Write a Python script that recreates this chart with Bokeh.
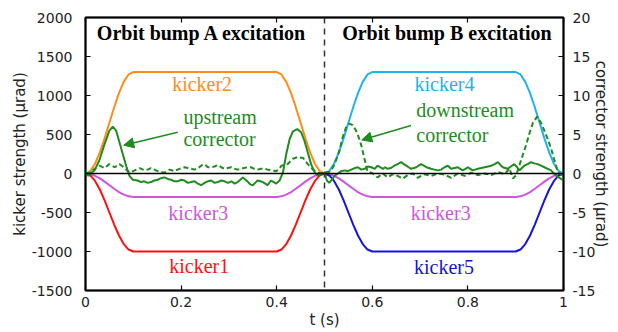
from bokeh.plotting import figure
from bokeh.models import Range1d, LinearAxis, Span, Arrow, NormalHead, FixedTicker, ColumnDataSource, Title
from bokeh.core.properties import value
from bokeh.embed import file_html
from bokeh.resources import INLINE

# ---------------- data ----------------
x_ticks = [0, 0.2, 0.4, 0.6, 0.8, 1.0]
x_tick_labels = ["0", "0.2", "0.4", "0.6", "0.8", "1"]
y_ticks = [-1500, -1000, -500, 0, 500, 1000, 1500, 2000]
y_tick_labels = ["-1500", "-1000", "-500", "0", "500", "1000", "1500", "2000"]
corr_ticks = [-15, -10, -5, 0, 5, 10, 15, 20]
corr_tick_labels = ["-15", "-10", "-5", "0", "5", "10", "15", "20"]
bump_boundary = 0.5

t_bump_A = [0.00, 0.01, 0.02, 0.03, 0.04, 0.05, 0.06, 0.07, 0.08, 0.09, 0.10,
            0.40, 0.41, 0.42, 0.43, 0.44, 0.45, 0.46, 0.47, 0.48, 0.49, 0.50]
t_bump_B = [0.50, 0.51, 0.52, 0.53, 0.54, 0.55, 0.56, 0.57, 0.58, 0.59, 0.60,
            0.90, 0.91, 0.92, 0.93, 0.94, 0.95, 0.96, 0.97, 0.98, 0.99, 1.00]

kicker1 = [0, -25, -95, -205, -345, -500, -655, -795, -905, -975, -1000,
           -1000, -975, -905, -795, -655, -500, -345, -205, -95, -25, 0]
kicker2 = [0, 30, 125, 270, 450, 650, 850, 1030, 1175, 1270, 1300,
           1300, 1270, 1175, 1030, 850, 650, 450, 270, 125, 30, 0]
kicker3_A = [0, -7, -29, -62, -104, -150, -196, -238, -271, -293, -300,
             -300, -293, -271, -238, -196, -150, -104, -62, -29, -7, 0]
kicker3_B = [0, -7, -29, -62, -104, -150, -196, -238, -271, -293, -300,
             -300, -293, -271, -238, -196, -150, -104, -62, -29, -7, 0]
kicker4 = [0, 30, 125, 270, 450, 650, 850, 1030, 1175, 1270, 1300,
           1300, 1270, 1175, 1030, 850, 650, 450, 270, 125, 30, 0]
kicker5 = [0, -25, -95, -205, -345, -500, -655, -795, -905, -975, -1000,
           -1000, -975, -905, -795, -655, -500, -345, -205, -95, -25, 0]

# upstream corrector (solid), urad
t_up = [0.000, 0.006, 0.012, 0.019, 0.029, 0.040, 0.050, 0.057, 0.064, 0.071,
        0.078, 0.085, 0.092, 0.099, 0.109, 0.116, 0.123, 0.130, 0.137, 0.144,
        0.151, 0.158, 0.165, 0.172, 0.179, 0.186, 0.193, 0.200, 0.207, 0.214,
        0.221, 0.228, 0.235, 0.242, 0.249, 0.256, 0.263, 0.270, 0.277, 0.284,
        0.291, 0.298, 0.305, 0.312, 0.318, 0.324, 0.329, 0.335, 0.340, 0.345,
        0.350, 0.355, 0.360, 0.366, 0.371, 0.376, 0.381, 0.388, 0.394, 0.399,
        0.406, 0.413, 0.420, 0.427, 0.434, 0.443, 0.451, 0.458, 0.465, 0.472,
        0.479, 0.486, 0.493, 0.500, 0.505, 0.510, 0.515, 0.521, 0.528, 0.535,
        0.542, 0.549, 0.556, 0.563, 0.570, 0.577, 0.584, 0.591, 0.598, 0.605,
        0.611, 0.617, 0.622, 0.627, 0.632, 0.639, 0.646, 0.653, 0.660, 0.666,
        0.671, 0.676, 0.681, 0.687, 0.692, 0.697, 0.702, 0.708, 0.713, 0.718,
        0.723, 0.730, 0.737, 0.744, 0.751, 0.758, 0.765, 0.772, 0.779, 0.784,
        0.789, 0.795, 0.800, 0.805, 0.810, 0.815, 0.821, 0.828, 0.835, 0.842,
        0.849, 0.856, 0.863, 0.868, 0.873, 0.878, 0.883, 0.890, 0.897, 0.903,
        0.908, 0.913, 0.918, 0.925, 0.932, 0.939, 0.946, 0.953, 0.960, 0.967,
        0.974, 0.980, 0.985, 0.990, 0.995, 1.000]
upstream = [0.0, -0.3, 0.1, 0.4, 1.7, 3.8, 5.5, 6.0, 5.5, 4.0,
            2.5, 1.0, -0.3, -0.8, -0.9, -1.1, -1.0, -1.2, -1.1, -0.9,
            -0.8, -0.6, -0.5, -0.7, -0.8, -1.0, -1.0, -0.8, -0.9, -1.2,
            -1.1, -1.0, -1.3, -1.5, -1.2, -1.0, -0.9, -1.2, -1.1, -0.9,
            -1.0, -1.2, -1.0, -1.3, -1.1, -0.8, -0.5, -0.8, -1.1, -1.4,
            -1.5, -1.2, -0.9, -1.0, -1.1, -1.3, -1.5, -0.9, -1.1, -1.3,
            -0.9, 0.1, 2.5, 4.4, 5.4, 5.7, 5.3, 4.2, 2.7, 1.2,
            0.2, -0.3, 0.0, 0.0, -0.9, -1.2, -0.8, -0.3, 0.0, 0.3,
            0.4, 0.3, 0.5, 0.7, 0.8, 0.5, 0.6, 0.9, 0.8, 0.6,
            1.0, 0.8, 0.6, 0.8, 0.6, 0.7, 1.0, 1.2, 1.45, 1.2,
            1.0, 0.8, 0.6, 0.7, 0.8, 1.0, 1.2, 1.0, 0.8, 0.7,
            0.6, 0.5, 0.4, 0.5, 0.8, 1.0, 0.6, 0.7, 0.8, 0.6,
            0.4, 0.6, 0.8, 0.6, 0.4, 0.5, 0.6, 0.7, 0.8, 0.9,
            1.0, 1.2, 1.45, 1.1, 0.8, 0.7, 0.6, 0.9, 1.2, 0.8,
            0.4, 0.7, 1.0, 1.2, 1.45, 1.3, 1.2, 1.0, 0.8, 0.6,
            0.4, 0.0, -0.3, -0.5, -0.7, -0.8]

# downstream corrector (dashed), urad
t_down = [0.000, 0.010, 0.019, 0.029, 0.040, 0.050, 0.061, 0.071, 0.078, 0.085,
          0.092, 0.103, 0.113, 0.124, 0.130, 0.137, 0.144, 0.151, 0.158, 0.165,
          0.176, 0.186, 0.193, 0.200, 0.207, 0.214, 0.221, 0.228, 0.238, 0.244,
          0.249, 0.256, 0.263, 0.270, 0.277, 0.284, 0.291, 0.298, 0.305, 0.312,
          0.318, 0.325, 0.332, 0.339, 0.346, 0.353, 0.360, 0.367, 0.374, 0.381,
          0.388, 0.394, 0.399, 0.405, 0.410, 0.416, 0.423, 0.429, 0.434, 0.444,
          0.455, 0.465, 0.476, 0.486, 0.493, 0.500, 0.505, 0.510, 0.516, 0.521,
          0.526, 0.531, 0.538, 0.545, 0.552, 0.559, 0.566, 0.573, 0.577, 0.582,
          0.587, 0.590, 0.601, 0.611, 0.622, 0.632, 0.643, 0.653, 0.664, 0.674,
          0.685, 0.695, 0.709, 0.723, 0.737, 0.751, 0.765, 0.779, 0.793, 0.807,
          0.821, 0.835, 0.849, 0.863, 0.877, 0.887, 0.894, 0.901, 0.908, 0.915,
          0.922, 0.929, 0.936, 0.945, 0.953, 0.960, 0.967, 0.974, 0.981, 0.988,
          0.995, 1.000]
downstream = [0.0, 0.1, 0.6, 1.0, 0.7, 1.2, 0.8, 1.2, 0.9, 0.5,
              0.1, 0.4, 0.7, 0.4, 0.5, 0.7, 0.5, 0.3, 0.2, 0.1,
              0.5, 0.3, 0.5, 0.7, 0.8, 0.7, 0.6, 0.5, 0.8, 1.1,
              1.2, 0.8, 0.8, 0.9, 1.1, 0.8, 0.6, 0.7, 0.8, 0.6,
              0.5, 0.6, 0.7, 0.8, 0.8, 0.6, 0.5, 0.6, 0.6, 0.5,
              0.4, 0.35, 0.3, 0.6, 1.0, 1.1, 1.2, 1.6, 1.9, 2.1,
              2.0, 1.2, 0.5, 0.1, 0.0, 0.0, 0.2, 0.2, 0.6, 1.2,
              2.0, 2.9, 4.65, 5.9, 6.4, 6.2, 5.5, 4.4, 3.6, 2.3,
              1.0, 0.3, 0.0, -0.5, 0.0, -0.5, -0.1, -0.3, -0.65, -0.2,
              0.0, -0.55, -0.1, -0.3, 0.0, -0.15, -0.55, 0.0, -0.3, 0.1,
              -0.2, 0.0, -0.2, 0.2, -0.1, 0.65, -0.65, -0.2, 1.1, 2.4,
              3.7, 5.2, 6.5, 7.3, 6.5, 5.5, 4.4, 3.2, 1.7, 0.2,
              -0.2, 0.0]

# ---------------- styling ----------------
C_ORANGE = "#FF8C1A"
C_RED = "#FF1010"
C_MAGENTA = "#CF55DF"
C_CYAN = "#1FB2EE"
C_BLUE = "#1414DC"
C_GREEN = "#1E8C1E"
SERIF = "Liberation Serif"
SANS = "DejaVu Sans"

p = figure(width=618, height=332, output_backend="svg", toolbar_location=None,
           x_range=Range1d(0, 1), y_range=Range1d(-1500, 2000),
           min_border_left=85, min_border_right=55, min_border_top=17,
           min_border_bottom=42)
p.extra_y_ranges = {"corr": Range1d(-15, 20)}
p.grid.visible = False
p.outline_line_color = "black"
p.outline_line_width = 2
p.background_fill_color = "white"
p.border_fill_color = "white"


def style_axis(ax):
    ax.axis_line_color = "black"
    ax.axis_line_width = 1.5
    ax.major_tick_in = 5
    ax.major_tick_out = 0
    ax.major_tick_line_color = "black"
    ax.major_tick_line_width = 1.2
    ax.minor_tick_line_color = None
    ax.major_label_text_font = SANS
    ax.major_label_text_font_size = "14px"
    ax.major_label_text_color = "#222222"
    ax.axis_label_text_font = SANS
    ax.axis_label_text_font_size = "15px"
    ax.axis_label_text_font_style = "normal"
    ax.axis_label_text_color = "#222222"


xax = p.xaxis[0]
xax.ticker = FixedTicker(ticks=x_ticks)
xax.major_label_overrides = dict(zip(x_ticks, x_tick_labels))
xax.axis_label = "t (s)"
style_axis(xax)
xax.major_label_standoff = 6
xax.axis_label_standoff = 1

yax = p.yaxis[0]
yax.ticker = FixedTicker(ticks=y_ticks)
yax.major_label_overrides = dict(zip(y_ticks, y_tick_labels))
yax.axis_label = None
style_axis(yax)
yax.major_label_standoff = 13

rax = LinearAxis(y_range_name="corr", ticker=FixedTicker(ticks=corr_ticks),
                 axis_label="corrector strength (μrad)")
rax.major_label_overrides = dict(zip(corr_ticks, corr_tick_labels))
style_axis(rax)
rax.major_label_standoff = 9
rax.axis_label_standoff = -6
p.add_layout(rax, "right")

tax = LinearAxis(ticker=FixedTicker(ticks=x_ticks), axis_label=None)
style_axis(tax)
tax.major_label_overrides = {t: "" for t in x_ticks}
tax.major_label_standoff = 0
p.add_layout(tax, "above")

# left axis title, set a little above the frame centre as in the original
p.add_layout(Title(text="kicker strength (μrad)", align="center", offset=19,
                   text_font=SANS, text_font_size="15px", text_font_style="normal",
                   text_color="#222222", standoff=0), "left")

# zero line and bump boundary
p.add_layout(Span(location=0, dimension="width", line_color="black", line_width=1.5))
p.add_layout(Span(location=bump_boundary, dimension="height", line_color="#333333",
                  line_width=1.5, line_dash="6 5"))

# kickers
LW = 2
p.line(t_bump_A, kicker3_A, line_color=C_MAGENTA, line_width=LW)
p.line(t_bump_B, kicker3_B, line_color=C_MAGENTA, line_width=LW)
p.line(t_bump_A, kicker1, line_color=C_RED, line_width=LW)
p.line(t_bump_A, kicker2, line_color=C_ORANGE, line_width=LW)
p.line(t_bump_B, kicker4, line_color=C_CYAN, line_width=LW)
p.line(t_bump_B, kicker5, line_color=C_BLUE, line_width=LW)

# correctors (right axis)
p.line(t_down, downstream, y_range_name="corr", line_color=C_GREEN, line_width=2,
       line_dash="5 3")
p.line(t_up, upstream, y_range_name="corr", line_color=C_GREEN, line_width=2)

# titles
titles = ColumnDataSource(dict(x=[0.244, 0.756], y=[1795, 1795],
                               text=["Orbit bump A excitation", "Orbit bump B excitation"]))
p.text(x="x", y="y", text="text", source=titles, text_color="black",
       text_font=value(SERIF), text_font_size="20px", text_font_style="bold",
       text_align="center", text_baseline="middle")

# curve labels
lab_c = ColumnDataSource(dict(
    x=[0.244, 0.751, 0.236, 0.743, 0.238, 0.750],
    y=[1150, 1150, -500, -500, -1180, -1200],
    text=["kicker2", "kicker4", "kicker3", "kicker3", "kicker1", "kicker5"],
    color=[C_ORANGE, C_CYAN, C_MAGENTA, C_MAGENTA, C_RED, C_BLUE]))
p.text(x="x", y="y", text="text", source=lab_c, text_color="color",
       text_font=value(SERIF), text_font_size="20px",
       text_align="center", text_baseline="middle")

lab_l = ColumnDataSource(dict(
    x=[0.205, 0.205, 0.692, 0.692],
    y=[718, 436, 808, 500],
    text=["upstream", "corrector", "downstream", "corrector"]))
p.text(x="x", y="y", text="text", source=lab_l, text_color=C_GREEN,
       text_font=value(SERIF), text_font_size="20px",
       text_align="left", text_baseline="middle")

# arrows
for (x0, y0, x1, y1) in [(0.193, 529, 0.080, 362), (0.681, 615, 0.578, 430)]:
    p.add_layout(Arrow(end=NormalHead(size=10, fill_color=C_GREEN, line_color=C_GREEN),
                       x_start=x0, y_start=y0, x_end=x1, y_end=y1,
                       line_color=C_GREEN, line_width=1.5))

open("out.html", "w").write(file_html(p, INLINE))
